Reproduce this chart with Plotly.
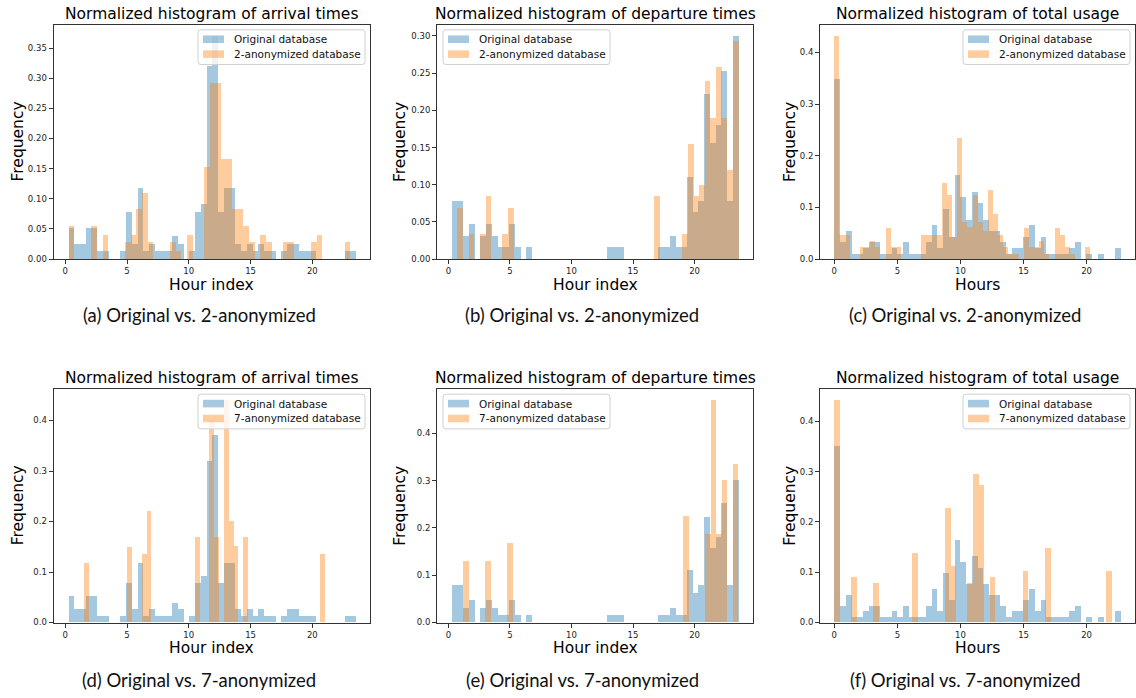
import numpy as np
import plotly.graph_objects as go

W, H = 1136, 698

# ---------------- data (bin start, bin width, normalized frequencies per bin) ----------------
arrival_orig_start, arrival_orig_width = 0.24, 0.4652
arrival_orig = [0.052, 0.026, 0.026, 0.052, 0.052, 0.013, 0.013, 0, 0, 0.013,
                0.078, 0.026, 0.118, 0.013, 0.026, 0.013, 0.013, 0.013, 0.039, 0.026,
                0, 0.013, 0.078, 0.092, 0.32, 0.37, 0.078, 0.118, 0.118, 0.026,
                0.013, 0.026, 0.013, 0.026, 0.013, 0.013, 0, 0.013, 0.026, 0.026,
                0.013, 0.013, 0.013, 0, 0, 0, 0, 0, 0.013, 0.013]

arrival_k2_start, arrival_k2_width = 0.24, 0.456
arrival_k2 = [0.055, 0, 0, 0, 0.055, 0, 0.04, 0, 0, 0,
              0.028, 0.04, 0.083, 0.11, 0.028, 0, 0, 0, 0.028, 0.013,
              0, 0.04, 0, 0, 0.153, 0.293, 0.293, 0.167, 0.167, 0.083,
              0.083, 0.055, 0.028, 0, 0.04, 0.028, 0, 0, 0.028, 0.028,
              0, 0, 0, 0.028, 0.04, 0, 0, 0, 0, 0.028]

arrival_k7_start, arrival_k7_width = 1.46, 0.391
arrival_k7 = [0.118, 0, 0, 0, 0, 0, 0, 0, 0, 0.15,
              0, 0, 0.135, 0.22, 0, 0, 0, 0, 0, 0,
              0, 0, 0, 0.168, 0, 0, 0.40, 0.168, 0, 0.44,
              0.20, 0.152, 0, 0.168, 0, 0, 0, 0, 0, 0,
              0, 0, 0, 0, 0, 0, 0, 0, 0, 0.135]

departure_orig_start, departure_orig_width = 0.27, 0.4662
departure_orig = [0.078, 0.078, 0.031, 0.047, 0, 0.031, 0.047, 0.031, 0.016, 0.016,
                  0.047, 0.016, 0, 0.016, 0, 0, 0, 0, 0, 0,
                  0, 0, 0, 0, 0, 0, 0, 0.016, 0.016, 0.016,
                  0, 0, 0, 0, 0, 0, 0.016, 0.016, 0.031, 0.016,
                  0.016, 0.11, 0.063, 0.078, 0.222, 0.157, 0.18, 0.253, 0.078, 0.30]

departure_k2_start, departure_k2_width = 0.73, 0.457
departure_k2 = [0.069, 0, 0.034, 0, 0.034, 0.085, 0, 0, 0.034, 0.069,
                0, 0, 0, 0, 0, 0, 0, 0, 0, 0,
                0, 0, 0, 0, 0, 0, 0, 0, 0, 0,
                0, 0, 0, 0, 0, 0.085, 0, 0, 0, 0,
                0.034, 0.155, 0.085, 0.10, 0.24, 0.19, 0.258, 0.19, 0.12, 0.293]

departure_k7_start, departure_k7_width = 1.22, 0.447
departure_k7 = [0.13, 0, 0, 0, 0.13, 0, 0, 0, 0.168, 0,
                0, 0, 0, 0, 0, 0, 0, 0, 0, 0,
                0, 0, 0, 0, 0, 0, 0, 0, 0, 0,
                0, 0, 0, 0, 0, 0, 0, 0, 0, 0,
                0.225, 0, 0, 0, 0.187, 0.47, 0.187, 0.30, 0, 0.335]

usage_orig_start, usage_orig_width = 0.0, 0.454
usage_orig = [0.35, 0.033, 0.054, 0.011, 0.011, 0.022, 0.033, 0.033, 0.011, 0.011,
              0.022, 0.011, 0.033, 0.011, 0.011, 0.011, 0.033, 0.066, 0.022, 0.098,
              0.044, 0.164, 0.12, 0.077, 0.131, 0.109, 0.077, 0.055, 0.055, 0.033,
              0.011, 0.022, 0.022, 0.044, 0.066, 0.022, 0.044, 0.011, 0.011, 0.011,
              0.011, 0.022, 0.033, 0, 0.011, 0, 0.011, 0, 0, 0.022]

usage_k2_start, usage_k2_width = 0.0, 0.406
usage_k2 = [0.432, 0.048, 0.048, 0, 0, 0.024, 0.024, 0.035, 0.024, 0,
            0.06, 0.024, 0.024, 0, 0, 0, 0, 0.048, 0.048, 0.048,
            0.048, 0.147, 0.124, 0.044, 0.235, 0.073, 0.062, 0.124, 0.073, 0.055,
            0.135, 0.088, 0.048, 0.024, 0.011, 0.011, 0, 0.06, 0.024, 0.024,
            0.035, 0.011, 0, 0.06, 0.048, 0.024, 0.011, 0, 0, 0.024]

usage_k7_start, usage_k7_width = 0.0, 0.4396
usage_k7 = [0.442, 0, 0, 0.09, 0, 0, 0, 0.079, 0, 0,
            0, 0, 0, 0, 0.137, 0, 0, 0, 0, 0,
            0.228, 0.113, 0, 0, 0.079, 0.295, 0.273, 0, 0.09, 0,
            0, 0, 0, 0, 0.102, 0, 0, 0, 0.148, 0,
            0, 0, 0, 0, 0, 0, 0, 0, 0, 0.102]

x_ticks = [0, 5, 10, 15, 20]
titles = ["Normalized histogram of arrival times",
          "Normalized histogram of departure times",
          "Normalized histogram of total usage"]
x_labels = ["Hour index", "Hour index", "Hours"]
y_label = "Frequency"
legend_orig = "Original database"
legend_anon = ["2-anonymized database", "7-anonymized database"]
captions = ["(a) Original vs. 2-anonymized", "(b) Original vs. 2-anonymized",
            "(c) Original vs. 2-anonymized", "(d) Original vs. 7-anonymized",
            "(e) Original vs. 7-anonymized", "(f) Original vs. 7-anonymized"]

# ---------------- layout geometry (pixels) ----------------
panels = [
    dict(box=(53.5, 370, 25, 261), xr=[-0.95, 24.67], leg="right",
         orig=(arrival_orig_start, arrival_orig_width, arrival_orig),
         anon=(arrival_k2_start, arrival_k2_width, arrival_k2), col=0, row=0),
    dict(box=(437, 753, 25, 261), xr=[-0.93, 24.75], leg="left",
         orig=(departure_orig_start, departure_orig_width, departure_orig),
         anon=(departure_k2_start, departure_k2_width, departure_k2), col=1, row=0),
    dict(box=(820, 1135, 25, 261), xr=[-1.135, 23.835], leg="right",
         orig=(usage_orig_start, usage_orig_width, usage_orig),
         anon=(usage_k2_start, usage_k2_width, usage_k2), col=2, row=0),
    dict(box=(53.5, 370, 392, 627), xr=[-0.95, 24.67], leg="right",
         orig=(arrival_orig_start, arrival_orig_width, arrival_orig),
         anon=(arrival_k7_start, arrival_k7_width, arrival_k7), col=0, row=1),
    dict(box=(437, 753, 392, 627), xr=[-0.93, 24.75], leg="left",
         orig=(departure_orig_start, departure_orig_width, departure_orig),
         anon=(departure_k7_start, departure_k7_width, departure_k7), col=1, row=1),
    dict(box=(820, 1135, 392, 627), xr=[-1.135, 23.835], leg="right",
         orig=(usage_orig_start, usage_orig_width, usage_orig),
         anon=(usage_k7_start, usage_k7_width, usage_k7), col=2, row=1),
]

caption_cx = [199, 582, 965]
caption_y = [317, 685]
ylabel_cx = [17.5, 400, 790]
xlabel_y = [287, 653]
title_y = [14, 381]


def fx(px):
    return px / W


def fy(py):
    return 1 - py / H


def rounded_rect(l, t, r, b, rad=3):
    x0, x1 = fx(l), fx(r)
    y0, y1 = fy(t), fy(b)
    rx, ry = rad / W, rad / H
    return (f"M{x0+rx},{y0} L{x1-rx},{y0} Q{x1},{y0} {x1},{y0-ry} "
            f"L{x1},{y1+ry} Q{x1},{y1} {x1-rx},{y1} L{x0+rx},{y1} "
            f"Q{x0},{y1} {x0},{y1+ry} L{x0},{y0-ry} Q{x0},{y0} {x0+rx},{y0} Z")


BLUE = "#1f77b4"
ORANGE = "#ff7f0e"
TXT = "DejaVu Sans, Arial, sans-serif"

fig = go.Figure()
layout = dict(width=W, height=H, margin=dict(l=0, r=0, t=0, b=0),
              paper_bgcolor="white", plot_bgcolor="white",
              barmode="overlay", showlegend=False, bargap=0)
annotations = []
shapes = []

for i, p in enumerate(panels):
    n = "" if i == 0 else str(i + 1)
    xa, ya = "x" + n, "y" + n
    l, r, t, b = p["box"]
    ymax = 0
    for (start, width, vals), color, name in [(p["orig"], BLUE, legend_orig),
                                              (p["anon"], ORANGE, legend_anon[p["row"]])]:
        vals = np.array(vals, dtype=float)
        centers = start + width * (np.arange(len(vals)) + 0.5)
        ymax = max(ymax, vals.max())
        fig.add_trace(go.Bar(x=centers, y=vals, width=width, name=name,
                             marker=dict(color=color, line=dict(width=0)),
                             opacity=0.4, xaxis=xa, yaxis=ya))
    yr = [0, ymax * 1.05]
    small = yr[1] < 0.4
    axis_common = dict(showline=True, mirror=True, linecolor="#333", linewidth=1,
                       ticks="outside", ticklen=4, tickwidth=1, tickcolor="#333",
                       showgrid=False, zeroline=False,
                       tickfont=dict(family=TXT, size=8.5, color="#222"))
    layout["xaxis" + n] = dict(domain=[fx(l), fx(r)], range=p["xr"], tickvals=x_ticks,
                               anchor=ya, **axis_common)
    layout["yaxis" + n] = dict(domain=[fy(b), fy(t)], range=yr,
                               dtick=0.05 if small else 0.1,
                               tickformat=".2f" if small else ".1f",
                               anchor=xa, **axis_common)
    cx = (l + r) / 2
    row, col = p["row"], p["col"]
    annotations.append(dict(x=fx(cx), y=fy(title_y[row]), xref="paper", yref="paper",
                            text=titles[col], showarrow=False, xanchor="center",
                            yanchor="middle", font=dict(family=TXT, size=15.5, color="black")))
    annotations.append(dict(x=fx(cx), y=fy(xlabel_y[row]), xref="paper", yref="paper",
                            text=x_labels[col], showarrow=False, xanchor="center",
                            yanchor="middle", font=dict(family=TXT, size=15.5, color="black")))
    annotations.append(dict(x=fx(ylabel_cx[col]), y=fy((t + b) / 2), xref="paper", yref="paper",
                            text=y_label, showarrow=False, textangle=-90, xanchor="center",
                            yanchor="middle", font=dict(family=TXT, size=15.5, color="black")))
    annotations.append(dict(x=fx(caption_cx[col]), y=fy(caption_y[row]), xref="paper", yref="paper",
                            text=captions[i], showarrow=False, xanchor="center",
                            yanchor="middle", font=dict(family="Lato, Noto Sans, sans-serif",
                                                        size=18.5, color="#111")))
    # legend box (matplotlib-like, semi-transparent with rounded corners)
    bw, bh = 167, 35
    bl = r - 5 - bw if p["leg"] == "right" else l + 6
    bt = t + 5
    shapes.append(dict(type="path", xref="paper", yref="paper", layer="above",
                       path=rounded_rect(bl, bt, bl + bw, bt + bh),
                       line=dict(color="#d0d0d0", width=1),
                       fillcolor="rgba(255,255,255,0.8)"))
    for k, (color, label) in enumerate([(BLUE, legend_orig), (ORANGE, legend_anon[row])]):
        rc = bt + 9.5 + 15 * k
        shapes.append(dict(type="rect", xref="paper", yref="paper", layer="above",
                           x0=fx(bl + 5), x1=fx(bl + 26), y0=fy(rc - 3.8), y1=fy(rc + 3.8),
                           line=dict(width=0), fillcolor=color, opacity=0.4))
        annotations.append(dict(x=fx(bl + 34), y=fy(rc), xref="paper", yref="paper",
                                text=label, showarrow=False, xanchor="left", yanchor="middle",
                                font=dict(family=TXT, size=10.5, color="#111")))

layout["annotations"] = annotations
layout["shapes"] = shapes
fig.update_layout(**layout)
fig.write_html("out.html")
